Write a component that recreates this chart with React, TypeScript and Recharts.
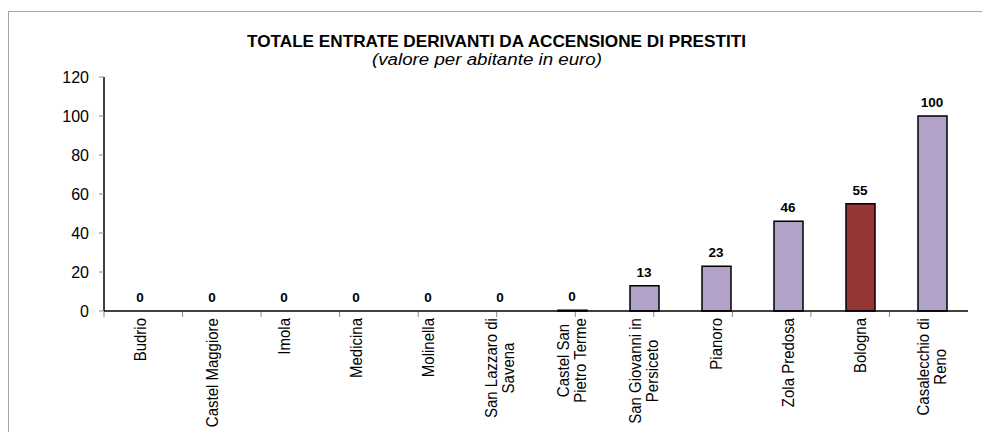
import React from "react";
import { ComposedChart, Bar, Line, XAxis, YAxis, Cell, LabelList } from "recharts";

// Entrate da accensione di prestiti, valore per abitante (euro)
const categories = [
  "Budrio",
  "Castel Maggiore",
  "Imola",
  "Medicina",
  "Molinella",
  "San Lazzaro di\nSavena",
  "Castel San\nPietro Terme",
  "San Giovanni in\nPersiceto",
  "Pianoro",
  "Zola Predosa",
  "Bologna",
  "Casalecchio di\nReno",
];
const values = [0, 0, 0, 0, 0, 0, 0.4, 13, 23, 46, 55, 100];
const highlighted = "Bologna";
const yTicks = [0, 20, 40, 60, 80, 100, 120];
const boundaryTicks = categories.map((_, i) => i).concat(categories.length);

const TITLE = "TOTALE ENTRATE DERIVANTI DA ACCENSIONE DI PRESTITI";
const SUBTITLE = "(valore per abitante in euro)";

const FONT = "'Liberation Sans', Arial, sans-serif";
const LILAC = "#b3a2c7";
const DARK_RED = "#953735";

const data = categories.map((name, i) => ({ name, value: values[i] }));

let measureCtx: CanvasRenderingContext2D | null = null;
function textWidth(s: string, size: number) {
  if (!measureCtx) measureCtx = document.createElement("canvas").getContext("2d");
  if (!measureCtx) return s.length * size * 0.5;
  measureCtx.font = `${size}px ${FONT}`;
  return measureCtx.measureText(s).width;
}

const LABEL_SIZE = 15;
const LINE_H = 17;
const WIDEN = 1.12; // the original glyphs look a bit stretched sideways

function CategoryTick(props: any) {
  const { x, y, payload } = props;
  const lines = String(payload.value).split("\n");
  const maxW = Math.max(...lines.map((l) => textWidth(l, LABEL_SIZE)));
  return (
    <g transform={`translate(${x},${y}) rotate(-90) scale(1,${WIDEN})`}>
      {lines.map((line, i) => (
        <text
          key={i}
          x={-maxW / 2}
          y={((i - (lines.length - 1) / 2) * LINE_H) / WIDEN + LABEL_SIZE * 0.35}
          textAnchor="middle"
          fontSize={LABEL_SIZE}
          fontFamily={FONT}
          fill="#000"
        >
          {line}
        </text>
      ))}
    </g>
  );
}

const NoTick = () => <g />;

export default function App() {
  return (
    <div style={{ position: "relative", width: 982, height: 432, overflow: "hidden", background: "#fff" }}>
      <style>{`body{margin:0}`}</style>
      <div
        style={{
          position: "absolute",
          left: 8,
          top: 11,
          width: 1000,
          height: 440,
          border: "1px solid #a6a6a6",
        }}
      />
      <svg width={982} height={80} style={{ position: "absolute", left: 0, top: 0 }}>
        <text
          x={496.5}
          y={47}
          textAnchor="middle"
          fontFamily={FONT}
          fontSize={16.2}
          fontWeight="bold"
          fill="#000"
          textLength={499}
          lengthAdjust="spacingAndGlyphs"
        >
          {TITLE}
        </text>
        <text
          x={487}
          y={65}
          textAnchor="middle"
          fontFamily={FONT}
          fontSize={16}
          fontStyle="italic"
          fill="#000"
          textLength={230}
          lengthAdjust="spacingAndGlyphs"
        >
          {SUBTITLE}
        </text>
      </svg>
      <div style={{ position: "absolute", left: 0, top: 0 }}>
        <ComposedChart width={982} height={432} data={data} margin={{ top: 77, right: 14, bottom: 119, left: 44 }}>
          <XAxis
            xAxisId="grid"
            type="number"
            domain={[0, categories.length]}
            ticks={boundaryTicks}
            allowDataOverflow
            height={1}
            axisLine={false}
            tickSize={5}
            tickLine={{ stroke: "#888", strokeWidth: 1 }}
            tick={NoTick}
          />
          <XAxis
            xAxisId="cat"
            dataKey="name"
            height={1}
            interval={0}
            tickLine={false}
            tickSize={0}
            tickMargin={7}
            axisLine={{ stroke: "#000", strokeWidth: 1.5 }}
            tick={<CategoryTick />}
          />
          <YAxis
            width={60}
            domain={[0, 120]}
            ticks={yTicks}
            interval={0}
            tickSize={5}
            tickMargin={10}
            axisLine={{ stroke: "#000", strokeWidth: 1.5 }}
            tickLine={{ stroke: "#888" }}
            tick={{ fill: "#000", fontSize: 16, fontFamily: FONT }}
          />
          <Bar
            xAxisId="cat"
            dataKey="value"
            barSize={29}
            stroke="#000"
            strokeWidth={1.5}
            isAnimationActive={false}
          >
            {data.map((d) => (
              <Cell key={d.name} fill={d.name === highlighted ? DARK_RED : LILAC} />
            ))}
          </Bar>
          <Line
            xAxisId="cat"
            dataKey="value"
            stroke="none"
            dot={false}
            activeDot={false}
            isAnimationActive={false}
          >
            <LabelList
              dataKey="value"
              position="top"
              offset={9}
              formatter={(v: any) => String(Math.round(Number(v)))}
              fill="#000"
              fontSize={13.5}
              fontWeight="bold"
              fontFamily={FONT}
            />
          </Line>
        </ComposedChart>
      </div>
    </div>
  );
}
